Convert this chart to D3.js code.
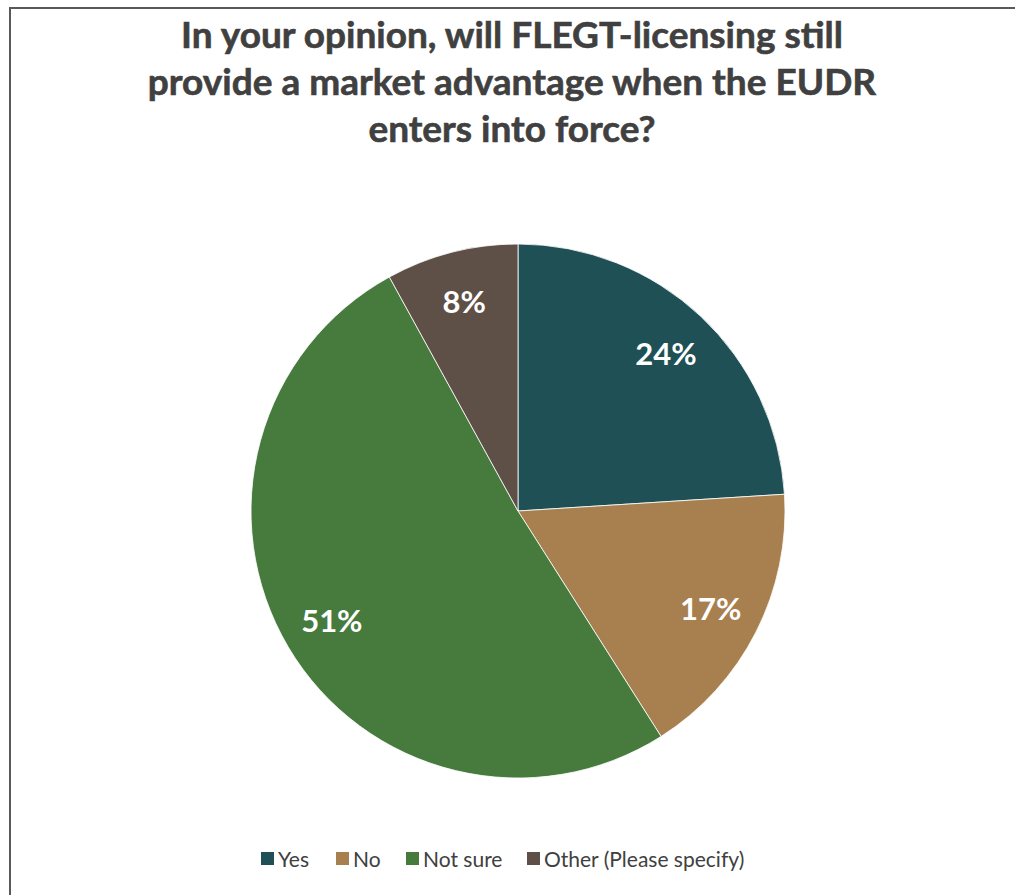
<!DOCTYPE html>
<html>
<head>
<meta charset="utf-8">
<script src="https://cdn.jsdelivr.net/npm/d3@7"></script>
<style>
  html, body { margin: 0; padding: 0; background: #fff; }
  svg { display: block; }
</style>
</head>
<body>
<svg id="chart" width="1015" height="895"></svg>
<script>
// Survey answers and their shares (%)
const categories = ["Yes", "No", "Not sure", "Other (Please specify)"];
const shares = [24, 17, 51, 8];
const colors = ["#1E5056", "#A8804F", "#467B3D", "#5F5047"];
const titleLines = [
  "In your opinion, will FLEGT-licensing still",
  "provide a market advantage when the EUDR",
  "enters into force?"
];

const svg = d3.select("#chart");
const font = "Lato, 'Open Sans', sans-serif";

// Chart frame (runs off the right and bottom edges)
svg.append("rect")
  .attr("x", 10).attr("y", 8)
  .attr("width", 1100).attr("height", 1000)
  .attr("fill", "#fff")
  .attr("stroke", "#595959").attr("stroke-width", 2);

// Title
svg.append("g").selectAll("text")
  .data(titleLines)
  .join("text")
  .attr("x", 512)
  .attr("y", (d, i) => 48 + i * 47)
  .attr("text-anchor", "middle")
  .attr("font-family", font)
  .attr("font-weight", 700)
  .attr("font-size", 37)
  .attr("fill", "#404040")
  .attr("stroke", "#404040")
  .attr("stroke-width", 0.6)
  .text(d => d);

// Pie
const cx = 518, cy = 511, R = 267;
const data = categories.map((c, i) => ({ category: c, value: shares[i], color: colors[i] }));
const pie = d3.pie().value(d => d.value).sort(null);
const arcs = pie(data);
const arc = d3.arc().innerRadius(0).outerRadius(R);
const labelArc = d3.arc().innerRadius(R * 0.81).outerRadius(R * 0.81);

const g = svg.append("g").attr("transform", `translate(${cx},${cy})`);
g.selectAll("path")
  .data(arcs)
  .join("path")
  .attr("d", arc)
  .attr("fill", d => d.data.color)
  .attr("stroke", "#fff")
  .attr("stroke-width", 0.8);

g.selectAll("text")
  .data(arcs)
  .join("text")
  .attr("transform", d => `translate(${labelArc.centroid(d)})`)
  .attr("text-anchor", "middle")
  .attr("dy", "0.36em")
  .attr("font-family", font)
  .attr("font-weight", 700)
  .attr("font-size", 31)
  .attr("fill", "#fff")
  .text(d => d.data.value + "%");

// Legend
const legendX = [261, 336, 406, 527];
const lg = svg.append("g");
const items = lg.selectAll("g")
  .data(data)
  .join("g")
  .attr("transform", (d, i) => `translate(${legendX[i]},852)`);
items.append("rect")
  .attr("width", 13).attr("height", 13)
  .attr("fill", d => d.color);
items.append("text")
  .attr("x", 17).attr("y", 14.5)
  .attr("font-family", font)
  .attr("font-size", 21)
  .attr("fill", "#404040")
  .text(d => d.category);
</script>
</body>
</html>
